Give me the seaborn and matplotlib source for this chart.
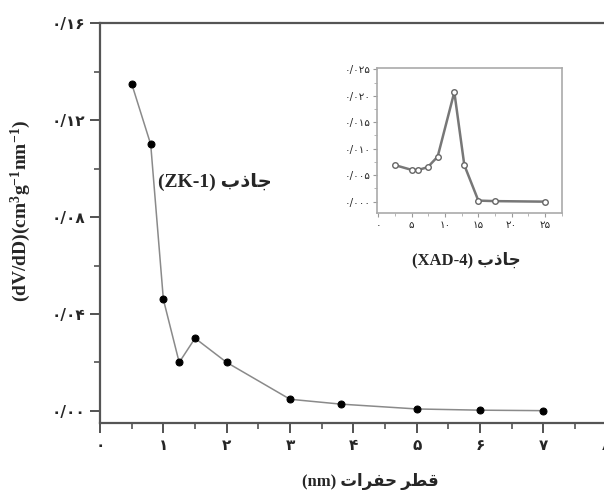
import matplotlib
matplotlib.use('Agg')
import matplotlib.pyplot as plt
from matplotlib.ticker import MultipleLocator, FixedLocator
import seaborn as sns
import pandas as pd

# main curve (ZK-1)
main_x = [0.5, 0.8, 1.0, 1.25, 1.5, 2.0, 3.0, 3.8, 5.0, 6.0, 7.0]
main_y = [0.135, 0.110, 0.046, 0.020, 0.030, 0.020, 0.0048, 0.0028, 0.0008, 0.0003, 0.0001]
main_xticks = [0, 1, 2, 3, 4, 5, 6, 7, 8]
main_xlabels = ['۰', '۱', '۲', '۳', '۴', '۵', '۶', '۷', '۸']
main_yticks = [0.0, 0.04, 0.08, 0.12, 0.16]
main_ylabels = ['۰/۰۰', '۰/۰۴', '۰/۰۸', '۰/۱۲', '۰/۱۶']

# inset curve (XAD-4)
ins_x = [2.5, 5.0, 6.0, 7.4, 8.9, 11.4, 12.9, 15.0, 17.5, 25.0]
ins_y = [0.0069, 0.0060, 0.0060, 0.0065, 0.0085, 0.0207, 0.0069, 0.0002, 0.0001, 0.0]
ins_xticks = [0, 5, 10, 15, 20, 25]
ins_xlabels = ['۰', '۵', '۱۰', '۱۵', '۲۰', '۲۵']
ins_yticks = [0.0, 0.005, 0.010, 0.015, 0.020, 0.025]
ins_ylabels = ['۰/۰۰۰', '۰/۰۰۵', '۰/۰۱۰', '۰/۰۱۵', '۰/۰۲۰', '۰/۰۲۵']

# arabic words written in visual (shaped, left-to-right) order
jazeb = '\ufe8f\ufeab\ufe8e\ufe9f'          # جاذب
qotr = '\ufeae\ufec4\ufed7'                  # قطر
hofarat = '\ufe95\ufe8d\ufeae\ufed4\ufea3'   # حفرات

sns.set_style('ticks')
plt.rcParams['font.family'] = ['Liberation Serif', 'DejaVu Sans']
plt.rcParams['mathtext.fontset'] = 'custom'
plt.rcParams['mathtext.rm'] = 'Liberation Serif:bold'
plt.rcParams['mathtext.it'] = 'Liberation Serif:bold'
plt.rcParams['mathtext.bf'] = 'Liberation Serif:bold'

df_main = pd.DataFrame({'x': main_x, 'y': main_y})
df_ins = pd.DataFrame({'x': ins_x, 'y': ins_y})

fig = plt.figure(figsize=(6.04, 4.90), dpi=100)
ax = fig.add_axes([0.1656, 0.1367, 0.839, 0.816])
sns.lineplot(data=df_main, x='x', y='y', ax=ax, sort=False, estimator=None,
             color='#8a8a8a', linewidth=1.1, marker='o', markersize=5,
             markerfacecolor='black', markeredgecolor='black')
ax.set_xlim(0, 8)
ax.set_ylim(-0.005, 0.16)
ax.xaxis.set_major_locator(FixedLocator(main_xticks))
ax.yaxis.set_major_locator(FixedLocator(main_yticks))
ax.set_xticklabels(main_xlabels, family=['DejaVu Sans'], fontsize=11, fontweight='bold')
ax.set_yticklabels(main_ylabels, family=['DejaVu Sans'], fontsize=11, fontweight='bold')
ax.xaxis.set_minor_locator(MultipleLocator(0.5))
ax.yaxis.set_minor_locator(MultipleLocator(0.02))
ax.tick_params(which='major', direction='out', length=7, width=1.3, color='#444444')
ax.tick_params(which='minor', direction='out', length=4, width=1.1, color='#444444')
for s in ax.spines.values():
    s.set_color('#555555')
    s.set_linewidth(1.6)
ax.set_xlabel('')
ax.set_ylabel(r'(dV/dD)(cm$^{3}$g$^{-1}$nm$^{-1}$)', fontsize=14, fontweight='bold')
ax.yaxis.set_label_coords(-0.132, 0.53)
fig.text(370, 490 - 481, '(nm) ' + hofarat + ' ' + qotr, transform=None, fontsize=12,
         fontweight='bold', family=['Liberation Serif', 'DejaVu Sans'], va='center', ha='center')
fig.text(158, 490 - 182, '(ZK-1) ' + jazeb, transform=None, fontsize=14, fontweight='bold',
         family=['Liberation Serif', 'DejaVu Sans'], va='center', ha='left')

# inset
ins = fig.add_axes([0.6247, 0.5647, 0.3063, 0.296])
sns.lineplot(data=df_ins, x='x', y='y', ax=ins, sort=False, estimator=None,
             color='#777777', linewidth=1.8, marker='o', markersize=4,
             markerfacecolor='white', markeredgecolor='#666666', markeredgewidth=1)
ins.set_xlim(-0.15, 27.6)
ins.set_ylim(-0.0022, 0.0252)
ins.xaxis.set_major_locator(FixedLocator(ins_xticks))
ins.yaxis.set_major_locator(FixedLocator(ins_yticks))
ins.set_xticklabels(ins_xlabels, family=['DejaVu Sans'], fontsize=7.5)
ins.set_yticklabels(ins_ylabels, family=['DejaVu Sans'], fontsize=7.5)
ins.xaxis.set_minor_locator(MultipleLocator(2.5))
ins.yaxis.set_minor_locator(MultipleLocator(0.0025))
ins.tick_params(which='major', direction='out', length=3, width=0.8, color='#999999', pad=2)
ins.tick_params(which='minor', direction='out', length=2, width=0.6, color='#aaaaaa')
for s in ins.spines.values():
    s.set_color('#aaaaaa')
    s.set_linewidth(1.2)
ins.set_xlabel('')
ins.set_ylabel('')
ins.set_facecolor('none')
fig.text(466, 490 - 260, '(XAD-4) ' + jazeb, transform=None, fontsize=12, fontweight='bold',
         family=['Liberation Serif', 'DejaVu Sans'], va='center', ha='center')

fig.savefig('out.png', dpi=100)
